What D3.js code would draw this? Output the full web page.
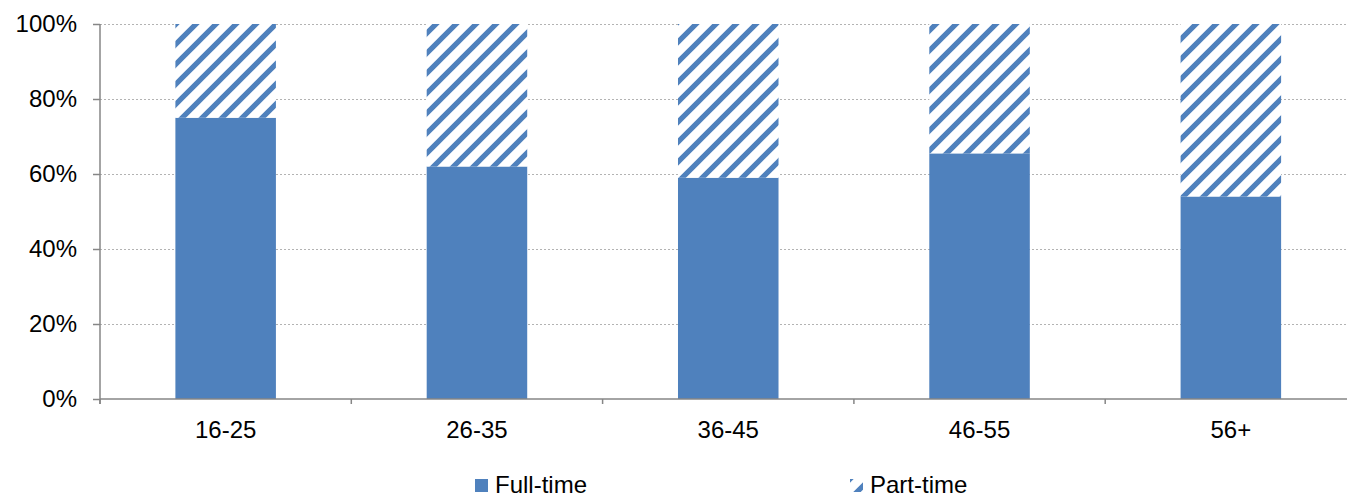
<!DOCTYPE html>
<html>
<head>
<meta charset="utf-8">
<script src="https://cdn.jsdelivr.net/npm/d3@7"></script>
<style>
  html, body { margin: 0; padding: 0; background: #fff; }
  svg { display: block; font-family: "Liberation Sans", Arial, sans-serif; }
</style>
</head>
<body>
<svg id="chart" width="1347" height="497"></svg>
<script>
// Share of workers by age group, split by contract type (percent)
const categories = ["16-25", "26-35", "36-45", "46-55", "56+"];
const fullTime = [75, 62, 59, 65.5, 54];
const partTime = fullTime.map(v => 100 - v);
const seriesNames = ["Full-time", "Part-time"];
const yTicks = [0, 20, 40, 60, 80, 100];

const blue = "#4F81BD";
const axisGrey = "#868686";

const svg = d3.select("#chart");
const margin = { left: 100, top: 24, bottom: 98 };
const plotRight = 1356.5;
const plotBottom = 497 - margin.bottom - 0; // 399

const x = d3.scaleBand().domain(categories).range([margin.left, plotRight]).paddingInner(0.6).paddingOuter(0.3);
const y = d3.scaleLinear().domain([0, 100]).range([plotBottom, margin.top]);

// Diagonal hatch for the part-time segments
const defs = svg.append("defs");
const pat = defs.append("pattern")
  .attr("id", "hatch")
  .attr("patternUnits", "userSpaceOnUse")
  .attr("width", 20).attr("height", 20);
pat.append("rect").attr("width", 20).attr("height", 20).attr("fill", "#fff");
pat.append("path")
  .attr("d", "M-10,10 L10,-10 M0,20 L20,0 M10,30 L30,10")
  .attr("stroke", blue).attr("stroke-width", 5.2);

// Dotted gridlines
svg.append("g")
  .selectAll("line")
  .data(yTicks.filter(t => t > 0))
  .join("line")
  .attr("x1", margin.left).attr("x2", 1347)
  .attr("y1", d => Math.round(y(d)) + 0.5).attr("y2", d => Math.round(y(d)) + 0.5)
  .attr("stroke", "#b3b3b3").attr("stroke-width", 1.2)
  .attr("stroke-dasharray", "2,2");

// Stacked bars
const stack = d3.stack().keys([0, 1]).value((d, k) => d[k]);
const rows = categories.map((c, i) => { const r = [fullTime[i], partTime[i]]; r.cat = c; return r; });
const layers = stack(rows);

svg.append("g")
  .selectAll("g")
  .data(layers)
  .join("g")
  .attr("fill", (d, i) => i === 0 ? blue : "url(#hatch)")
  .selectAll("rect")
  .data(d => d)
  .join("rect")
  .attr("x", d => x(d.data.cat))
  .attr("width", x.bandwidth())
  .attr("y", d => y(d[1]))
  .attr("height", d => y(d[0]) - y(d[1]));

// Y axis
const yAxis = d3.axisLeft(y).tickValues(yTicks).tickFormat(d => d + "%").tickSize(7).tickPadding(16);
const gy = svg.append("g").attr("transform", `translate(${margin.left},0)`).call(yAxis);
gy.select(".domain").attr("stroke", axisGrey).attr("stroke-width", 1.5)
  .attr("d", `M0,${margin.top}V${plotBottom + 5}`);
gy.selectAll(".tick line").attr("stroke", axisGrey).attr("stroke-width", 1.5);
gy.selectAll(".tick text").attr("font-size", 24).attr("fill", "#000")
  .attr("font-family", "'Liberation Sans', Arial, sans-serif");

// X axis with boundary ticks
const gx = svg.append("g").attr("transform", `translate(0,${plotBottom})`);
gx.append("line").attr("x1", margin.left).attr("x2", 1347).attr("y1", 0).attr("y2", 0)
  .attr("stroke", axisGrey).attr("stroke-width", 1.5);
const step = x.step();
const bounds = d3.range(categories.length + 1).map(i => margin.left + i * step);
gx.selectAll("line.b").data(bounds).join("line").attr("class", "b")
  .attr("x1", d => d).attr("x2", d => d).attr("y1", 0).attr("y2", 5)
  .attr("stroke", axisGrey).attr("stroke-width", 1.5);
gx.selectAll("text").data(categories).join("text")
  .attr("x", d => x(d) + x.bandwidth() / 2)
  .attr("y", 39)
  .attr("text-anchor", "middle")
  .attr("font-size", 24)
  .text(d => d);

// Legend
const legend = svg.append("g").attr("transform", "translate(0,479)");
const legendX = [475, 850];
const items = legend.selectAll("g").data(seriesNames).join("g")
  .attr("transform", (d, i) => `translate(${legendX[i]},0)`);
items.append("rect").attr("width", 13).attr("height", 13)
  .attr("fill", (d, i) => i === 0 ? blue : "url(#hatch)");
items.append("text").attr("x", 20).attr("y", 13.5).attr("font-size", 24).text(d => d);
</script>
</body>
</html>
